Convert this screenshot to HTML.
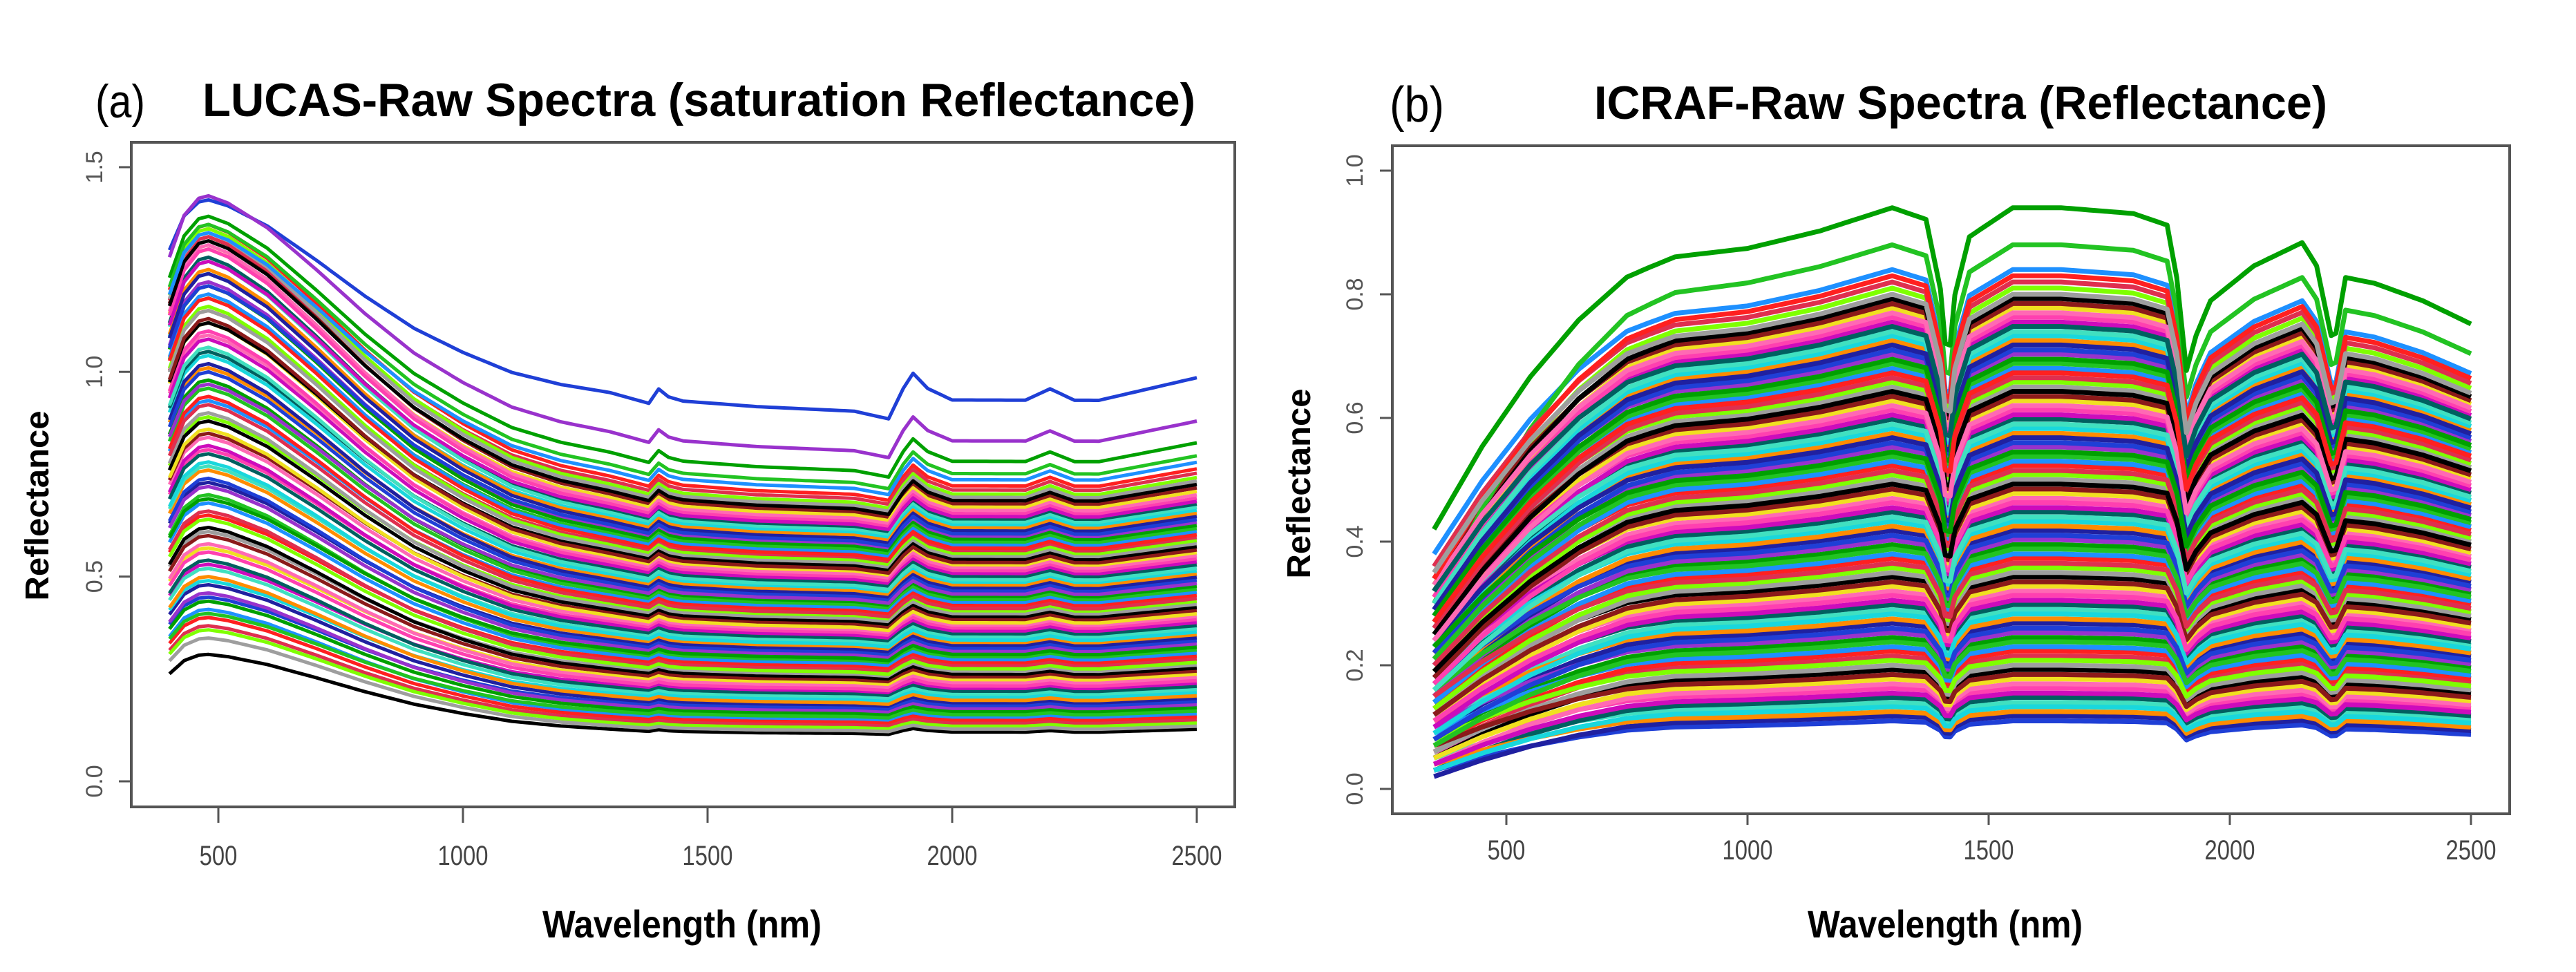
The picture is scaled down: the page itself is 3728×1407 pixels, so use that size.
<!DOCTYPE html>
<html><head><meta charset="utf-8"><style>
html,body{margin:0;padding:0;background:#fff;}
svg{display:block;font-family:"Liberation Sans",sans-serif;}
</style></head><body>
<svg id="fig" width="3728" height="1407" viewBox="0 0 3728 1407" xmlns="http://www.w3.org/2000/svg">
<defs>
<clipPath id="clipA"><rect x="192" y="208" width="1593" height="958"/></clipPath>
<clipPath id="clipB"><rect x="2017" y="213" width="1613" height="963"/></clipPath>
</defs>
<rect width="3728" height="1407" fill="#fff"/>
<text x="138" y="170" font-size="68" textLength="72" lengthAdjust="spacingAndGlyphs">(a)</text>
<text x="293" y="168" font-size="68" font-weight="bold" textLength="1437" lengthAdjust="spacingAndGlyphs">LUCAS-Raw Spectra (saturation Reflectance)</text>
<text x="2011" y="176" font-size="72" textLength="79" lengthAdjust="spacingAndGlyphs">(b)</text>
<text x="2307" y="172" font-size="68" font-weight="bold" textLength="1061" lengthAdjust="spacingAndGlyphs">ICRAF-Raw Spectra (Reflectance)</text>
<g id="plotA"></g>
<g id="plotB"></g>
<text transform="translate(70,732) rotate(-90)" text-anchor="middle" font-size="48" font-weight="bold" textLength="275" lengthAdjust="spacingAndGlyphs">Reflectance</text>
<text transform="translate(1896,700) rotate(-90)" text-anchor="middle" font-size="48" font-weight="bold" textLength="275" lengthAdjust="spacingAndGlyphs">Reflectance</text>
<text x="987" y="1357" text-anchor="middle" font-size="56" font-weight="bold" textLength="404" lengthAdjust="spacingAndGlyphs">Wavelength (nm)</text>
<text x="2815" y="1357" text-anchor="middle" font-size="56" font-weight="bold" textLength="398" lengthAdjust="spacingAndGlyphs">Wavelength (nm)</text>
</svg>
<script>
// ---------- LUCAS data ----------
const levelsA=[0.120,0.127,0.134,0.141,0.148,0.155,0.162,0.169,0.176,0.183,0.190,0.197,0.204,0.211,0.218,0.225,0.232,0.239,0.246,0.253,0.260,0.267,0.274,0.281,0.288,0.295,0.302,0.309,0.316,0.323,0.330,0.337,0.344,0.351,0.358,0.365,0.372,0.379,0.386,0.393,0.400,0.407,0.414,0.421,0.428,0.435,0.442,0.449,0.456,0.463,0.470,0.477,0.484,0.491,0.498,0.505,0.512,0.519,0.526,0.533,0.540,0.547,0.554,0.561,0.568,0.575,0.582,0.589,0.596,0.603,0.610,0.617,0.624,0.631,0.638,0.645,0.652,0.660,0.668,0.676,0.684,0.692,0.700,0.710,0.720,0.735,0.750,0.780,0.830,0.930];
const peaksA=[0.31,0.35,0.37,0.38,0.40,0.42,0.41,0.44,0.46,0.45,0.48,0.50,0.49,0.52,0.54,0.53,0.56,0.58,0.57,0.60,0.62,0.61,0.64,0.66,0.65,0.68,0.70,0.69,0.72,0.74,0.73,0.76,0.78,0.77,0.80,0.82,0.81,0.84,0.86,0.85,0.88,0.90,0.89,0.92,0.94,0.93,0.96,0.98,0.97,1.00,1.02,1.01,1.04,1.06,1.05,1.08,1.10,1.09,1.12,1.13,1.12,1.15,1.16,1.15,1.18,1.19,1.18,1.21,1.22,1.21,1.24,1.25,1.24,1.27,1.28,1.27,1.30,1.31,1.30,1.33,1.32,1.34,1.35,1.33,1.36,1.34,1.36,1.38,1.43,1.42];
const bumpWaves=[400,430,460,480,520,600,700,800,900,1000,1100,1200,1300,1400,1600,2500];
const bumpVals=[0.75,0.92,0.99,1,0.97,0.87,0.70,0.52,0.36,0.24,0.14,0.08,0.04,0.02,0.005,0];
const tailWaves=[400,1300,1380,1400,1420,1450,1800,1870,1900,1920,1950,2000,2150,2200,2250,2300,2500];
const tailVals=[1,1,0.98,1.02,1.0,0.99,0.97,0.95,1.03,1.07,1.03,1.0,1.0,1.03,1.0,1.0,1.06];
const xTicksA=[500,1000,1500,2000,2500];
const yTicksA=[0.0,0.5,1.0,1.5];
const yTickLabelsA=["0.0","0.5","1.0","1.5"];
// ---------- ICRAF data ----------
const levelsB=[0.110,0.118,0.125,0.133,0.140,0.148,0.155,0.163,0.170,0.178,0.185,0.193,0.200,0.208,0.215,0.223,0.230,0.238,0.245,0.253,0.260,0.268,0.275,0.283,0.290,0.298,0.305,0.313,0.320,0.328,0.335,0.343,0.350,0.358,0.365,0.373,0.380,0.388,0.395,0.403,0.410,0.418,0.425,0.433,0.440,0.448,0.455,0.463,0.470,0.478,0.485,0.493,0.500,0.508,0.515,0.523,0.530,0.538,0.545,0.553,0.560,0.568,0.575,0.583,0.590,0.598,0.605,0.613,0.620,0.628,0.635,0.643,0.650,0.658,0.665,0.673,0.680,0.688,0.695,0.703,0.710,0.718,0.725,0.733,0.740,0.748,0.755,0.763,0.770,0.778,0.785,0.793,0.800,0.810,0.820,0.830,0.840,0.880,0.940];
const startB=[0.03,0.02,0.04,0.03,0.05,0.03,0.04,0.06,0.04,0.05,0.07,0.05,0.06,0.08,0.06,0.07,0.09,0.07,0.08,0.10,0.08,0.09,0.11,0.09,0.10,0.12,0.10,0.11,0.13,0.11,0.12,0.14,0.12,0.13,0.15,0.13,0.14,0.16,0.14,0.15,0.17,0.15,0.16,0.18,0.16,0.17,0.19,0.17,0.18,0.20,0.18,0.19,0.21,0.19,0.20,0.22,0.20,0.21,0.23,0.21,0.22,0.24,0.22,0.23,0.25,0.23,0.24,0.26,0.24,0.25,0.27,0.25,0.26,0.28,0.26,0.27,0.29,0.27,0.28,0.30,0.28,0.29,0.31,0.29,0.30,0.32,0.30,0.31,0.33,0.31,0.34,0.32,0.35,0.33,0.36,0.34,0.38,0.30,0.42];
const shapeWavesB=[350,800,1000,1150,1300,1370,1400,1415,1430,1460,1550,1650,1800,1870,1890,1910,1930,1960,2050,2150,2180,2200,2215,2240,2300,2400,2500];
const shapeValsB=[0.92,0.93,0.93,0.96,1.0,0.98,0.86,0.72,0.85,0.95,1.0,1.0,0.99,0.97,0.88,0.72,0.78,0.84,0.9,0.94,0.9,0.82,0.76,0.88,0.87,0.84,0.8];
const riseWavesB=[350,450,550,650,750,850,1000,2500];
const riseValsB=[0,0.3,0.55,0.75,0.9,0.97,1,1];
const xTicksB=[500,1000,1500,2000,2500];
const yTicksB=[0.0,0.2,0.4,0.6,0.8,1.0];
const yTickLabelsB=["0.0","0.2","0.4","0.6","0.8","1.0"];

const palette=['#000000','#df2f4f','#22c322','#1f3fd6','#19d7dc','#cd0bbc','#f0e020','#9e9e9e','#ff2020','#00a000','#2020a0','#40e0c0','#ff40b0','#8b1a1a','#7fff00','#1e90ff','#9932cc','#ff8c00','#006060','#ff69b4'];
const NS='http://www.w3.org/2000/svg';
function interp(xs,ys,x){
  if(x<=xs[0])return ys[0];
  for(let i=1;i<xs.length;i++){if(x<=xs[i]){const t=(x-xs[i-1])/(xs[i]-xs[i-1]);return ys[i-1]+t*(ys[i]-ys[i-1]);}}
  return ys[ys.length-1];
}
const xA=w=>316+(w-500)*354/500, yA=v=>1131-v*592.7;
const xB=w=>2180+(w-500)*349/500, yB=v=>1142-v*895;

function el(tag,attrs,parent){const e=document.createElementNS(NS,tag);for(const k in attrs)e.setAttribute(k,attrs[k]);parent.appendChild(e);return e;}

function drawAxes(g,box,xs,xfun,ys,yfun,ylabels,yLabelX,xLabelY,tickBottom,prefix){
  const frame=el('rect',{x:box[0],y:box[1],width:box[2]-box[0],height:box[3]-box[1],fill:'none',stroke:'#555','stroke-width':4},g);
  
  
  xs.forEach(w=>{
    const t=el('line',{x1:xfun(w),x2:xfun(w),y1:box[3],y2:tickBottom,stroke:'#555','stroke-width':3},g);
    
    
    const l=el('text',{x:xfun(w),y:xLabelY,'text-anchor':'middle','font-size':40,fill:'#444',transform:`translate(${xfun(w)},0) scale(0.82,1) translate(${-xfun(w)},0)`},g);
    l.textContent=String(w);
    
    
  });
  ys.forEach((v,i)=>{
    const t=el('line',{x1:box[0]-18,x2:box[0],y1:yfun(v),y2:yfun(v),stroke:'#555','stroke-width':3},g);
    
    
    const l=el('text',{transform:`translate(${yLabelX},${yfun(v)}) rotate(-90)`,'text-anchor':'middle','font-size':34,fill:'#555'},g);
    l.textContent=ylabels[i];
    
    
  });
}

// LUCAS spectra
const gA=document.getElementById('plotA');
const linesA=el('g',{'clip-path':'url(#clipA)'},gA);


levelsA.forEach((_,k)=>{
  const i=(k*37)%levelsA.length;
  const L=levelsA[i],P=peaksA[i];
  let d='';
  for(let w=400;w<=2500;w+=10){
    const v=L*interp(tailWaves,tailVals,w)+(P-L)*interp(bumpWaves,bumpVals,w);
    d+=(w===400?'M':'L')+xA(w).toFixed(1)+','+yA(v).toFixed(1);
  }
  const p=el('path',{d:d,fill:'none',stroke:palette[(i*7)%palette.length],'stroke-width':5,'stroke-linejoin':'round'},linesA);
  
  
});
drawAxes(gA,[190,206,1787,1168],xTicksA,xA,yTicksA,yA,yTickLabelsA,148,1252,1191,'lucas');

// ICRAF spectra
const gB=document.getElementById('plotB');
const linesB=el('g',{'clip-path':'url(#clipB)'},gB);


levelsB.forEach((_,k)=>{
  const i=(k*41)%levelsB.length;
  const L=levelsB[i],s=startB[i];
  let d='';
  for(let w=350;w<=2500;w+=10){
    const plate=L*interp(shapeWavesB,shapeValsB,w);
    const r=interp(riseWavesB,riseValsB,w);
    const v=s+(plate-s)*r;
    d+=(w===350?'M':'L')+xB(w).toFixed(1)+','+yB(v).toFixed(1);
  }
  const p=el('path',{d:d,fill:'none',stroke:palette[(i*7+3)%palette.length],'stroke-width':7,'stroke-linejoin':'round'},linesB);
  
  
});
drawAxes(gB,[2015,211,3632,1178],xTicksB,xB,yTicksB,yB,yTickLabelsB,1972,1244,1194,'icraf');
</script>
</body></html>
